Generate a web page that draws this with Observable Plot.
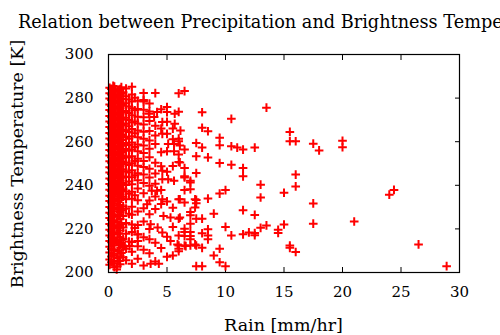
<!DOCTYPE html>
<html>
<head>
<meta charset="utf-8">
<script src="https://cdn.jsdelivr.net/npm/d3@7"></script>
<script src="https://cdn.jsdelivr.net/npm/@observablehq/plot@0.6"></script>
<style>
  html, body { margin: 0; padding: 0; background: white; overflow: hidden; }
  svg { display: block; }
</style>
</head>
<body>
<div id="chart"></div>
<script>
const titleText = "Relation between Precipitation and Brightness Temperature";
const xLabel = "Rain [mm/hr]";
const yLabel = "Brightness Temperature [K]";
const xTicks = [0, 5, 10, 15, 20, 25, 30];
const yTicks = [200, 220, 240, 260, 280, 300];

// Dense low-rain columns
const denseRain = [0.1, 0.25, 0.4, 0.5, 0.6, 0.75, 0.9, 1.0, 1.1, 1.25, 1.5, 1.75, 2.0, 2.25, 2.5, 3.0, 3.5, 4.0, 4.5];
const denseTemps = [
  [203.5, 206, 209.2, 211.8, 214.5, 217, 219.6, 222.3, 225, 227.4, 230.1, 232.8, 235.2, 238, 240.6, 243.1, 245.9, 248.3, 251, 253.7, 256.2, 258.8, 261.5, 264, 266.7, 269.3, 271.8, 274.5, 277.1, 279.8, 282.2, 284.7],
  [204.7, 207.3, 210.8, 213.9, 216.2, 218.9, 221.6, 224.1, 226.8, 229.5, 232.1, 234.6, 237.4, 239.9, 242.5, 245.2, 247.8, 250.4, 252.9, 255.6, 258.1, 260.9, 263.4, 266.1, 268.6, 271.2, 273.9, 276.4, 279.1, 281.6, 284.2],
  [204.1, 208.6, 212.5, 215.1, 217.6, 220.2, 222.9, 225.6, 228.1, 230.8, 233.4, 236, 238.6, 241.2, 243.8, 246.5, 249.1, 251.6, 254.3, 256.9, 259.5, 262.1, 264.7, 267.4, 269.9, 272.5, 275.2, 277.7, 280.3, 282.9, 285.6],
  [202.4, 205.1, 207.9, 210.3, 213.2, 215.8, 218.4, 221.1, 223.6, 226.2, 228.9, 231.5, 234.1, 236.7, 239.3, 241.8, 244.6, 247.2, 249.7, 252.4, 255, 257.5, 260.2, 262.8, 265.4, 268, 270.6, 273.2, 275.8, 278.5, 281, 283.6, 285.3],
  [236.9, 240.5, 243.7, 246.3, 249.1, 251.4, 254.2, 256.8, 259.7, 262.3, 264.9, 267.6, 270.3, 272.8, 275.5, 278.2, 280.6, 283.4],
  [202.9, 206.6, 209.9, 214.4, 217.7, 220.5, 223, 225.7, 229.2, 232.4, 234.9, 237.8, 240.3, 243.4, 246.1, 248.9, 251.2, 253.9, 256.6, 259.3, 261.8, 264.6, 267.3, 269.9, 272.6, 275.1, 277.9, 280.4, 283],
  [205.3, 210.1, 213.5, 218, 221.7, 226.4, 229.9, 233.1, 236.2, 239.5, 241, 243.9, 246.8, 249.5, 252.1, 254.9, 257.2, 259.9, 262.4, 265.1, 267.8, 270.5, 273.1, 275.7, 278.7, 281.1, 283.8],
  [203.8, 207.4, 212.6, 216.1, 219.3, 224.5, 227.8, 231, 235.7, 238.9, 242.2, 245.1, 248.6, 251.8, 254.4, 257.9, 261, 263.7, 266.9, 269.8, 272.5, 275.4, 278.2, 281.4, 284.1],
  [209, 214.8, 222.1, 228.6, 233.9, 237.4, 240.4, 243.5, 246.3, 249.8, 252.5, 255.3, 258.2, 260.8, 263.1, 265.6, 268.4, 271.1, 273.9, 276.8, 279.5, 282.1, 285],
  [206.9, 211.5, 215.4, 220.6, 225.9, 230.3, 234.8, 238.2, 241.1, 244.2, 247.4, 250.9, 253.6, 256.1, 258.6, 262.3, 264.9, 267.7, 270.3, 273.4, 276.5, 279.7, 282.7],
  [205.6, 210.9, 217.8, 222.7, 229.3, 233.6, 237.2, 240.1, 243.8, 246.5, 250.3, 253.1, 256.7, 259.4, 262.1, 265.3, 268.2, 271, 274.1, 277.6, 280.9, 284.4],
  [214.2, 226.9, 236.1, 241.7, 245.9, 249.3, 252.7, 255.8, 258.5, 261.3, 264.4, 267.1, 270, 273.2, 276.2, 279.4],
  [204, 209.5, 214, 218.6, 222, 226.5, 230.2, 233.8, 237, 240.5, 243.7, 246.9, 250.1, 253.3, 256.4, 259.6, 262.5, 265.8, 268.9, 272.1, 275.3, 278.4, 281.7, 285.2],
  [220.4, 235.4, 244.6, 251.2, 257.6, 263.9, 269.3, 274.4, 280.2],
  [206.3, 212, 217.4, 221.8, 228, 233.1, 238.5, 242.3, 245.5, 249, 252.2, 255.6, 258.7, 262, 265.1, 268.4, 271.5, 275, 278.8],
  [203.2, 210.4, 216.2, 223.4, 229.5, 236.3, 241, 244.9, 248.4, 251.2, 254.8, 258.3, 261.4, 264.6, 267.9, 271.2, 274.6, 279.1, 282.3],
  [208.8, 215.3, 219.9, 226.7, 233, 239.8, 243.6, 247.6, 252.9, 256.8, 260.6, 264.9, 269.5, 273.8, 277.5],
  [205.1, 213.7, 229.1, 234.9, 240.7, 245.4, 250.3, 258.9, 262.9, 267.3],
  [211.2, 231.4, 237.8, 248.7, 255.2, 266, 274.9]
];

// Scattered higher-rain observations
const sparseRain = [6.0, 6.5, 6.0, 8.0, 10.5, 13.5, 8.0, 8.5, 6.0, 6.0, 7.5, 9.5, 9.5, 8.0, 10.5, 11.0, 11.5, 12.5, 6.5, 6.0,
  7.5, 8.5, 6.0, 9.5, 10.5, 6.5, 11.5, 7.5, 6.5, 11.5, 7.0, 7.0, 6.5, 10.0, 9.5, 6.0, 8.5, 7.5, 6.5, 7.5,
  7.0, 9.0, 7.0, 11.5, 12.5, 6.0, 7.5, 8.0, 7.0, 10.0, 6.5, 8.5, 6.5, 7.0, 8.0, 12.0, 12.5, 6.0, 8.5, 10.5,
  11.5, 12.5, 6.5, 7.0, 7.0, 8.5, 6.0, 6.5, 7.0, 7.5, 8.0, 6.0, 9.5, 6.0, 9.0, 9.5, 10.0, 7.5, 8.0, 15.5,
  15.5, 16.0, 17.5, 18.0, 20.0, 20.0, 16.0, 16.0, 13.0, 13.0, 15.0, 17.5, 13.0, 13.5, 15.0, 17.5, 14.5, 14.5, 15.5, 15.5,
  16.0, 21.0, 24.0, 24.4, 26.5, 28.9,
  4.0, 3.0, 5.0, 5.0, 4.15, 5.66, 3.45, 3.9, 4.6, 5.66, 6.15, 4.6, 5.0, 5.1, 5.6, 6.1, 5.0, 5.6, 6.1, 4.6,
  4.6, 5.1, 5.6, 6.5, 7.0, 3.7, 4.15, 4.6, 6.1, 7.4, 7.4, 3.3, 4.7, 5.3, 6.1, 3.6, 4.2, 4.6, 2.5, 2.5,
  5.3, 5.9, 6.6, 7.4, 3.6, 4.3, 0.7, 1.4, 1.8, 5.5, 5.5, 5.5, 5.0, 5.0, 5.0, 5.0, 5.5, 5.5, 5.5, 5.0];
const sparseTemp = [282.2, 283.2, 273.7, 273.5, 270.5, 275.6, 266.4, 264.8, 261.4, 260.2, 259.4, 261.8, 258.4, 257.3, 257.9, 257.3, 256.4, 257.3, 256.4, 254.1,
  253.3, 252.8, 250.7, 250.2, 249.4, 247.9, 247.9, 245.6, 244.2, 244.1, 241.3, 238.2, 237.8, 237.8, 236.2, 233.6, 233.9, 233.3, 232.1, 231.8,
  227.8, 227.0, 226.3, 228.6, 226.4, 224.7, 224.7, 224.7, 222.4, 220.9, 220.1, 219.8, 218.6, 218.6, 218.0, 218.4, 218.1, 217.0, 217.0, 217.0,
  217.5, 217.1, 216.7, 216.7, 215.2, 215.2, 212.4, 212.4, 212.4, 212.4, 211.3, 210.9, 210.9, 209.8, 207.8, 204.7, 202.9, 202.9, 202.9, 264.5,
  260.2, 260.2, 259.1, 256.0, 260.4, 257.5, 244.9, 239.5, 240.3, 234.4, 236.6, 231.7, 220.5, 221.6, 222.0, 222.4, 219.6, 218.1, 212.4, 211.3,
  209.4, 223.4, 235.7, 237.9, 212.9, 202.9,
  282.3, 278.4, 275.9, 273.6, 273.6, 272.8, 272.8, 271.3, 269.0, 268.2, 265.1, 263.6, 263.6, 259.0, 259.0, 258.2, 255.6, 255.6, 250.5, 246.7,
  242.8, 242.8, 242.1, 243.6, 242.1, 237.5, 237.5, 233.6, 233.6, 233.6, 229.8, 231.3, 225.9, 225.2, 225.2, 222.1, 220.6, 218.3, 217.5, 214.4,
  214.4, 212.9, 212.1, 212.9, 204.0, 204.0, 201.4, 212.1, 212.1, 207.8, 220.9, 229.7, 207.2, 216.4, 232.6, 246.2, 248.8, 261.1, 266.0, 269.1];

const points = [];
denseRain.forEach((r, i) => denseTemps[i].forEach(t => points.push({rain: r, temp: t})));
sparseRain.forEach((r, i) => points.push({rain: r, temp: sparseTemp[i]}));

const chart = Plot.plot({
  width: 500,
  height: 335,
  marginTop: 54,
  marginRight: 41,
  marginBottom: 63,
  marginLeft: 108,
  style: {fontFamily: "DejaVu Serif", fontSize: "15px", color: "black", background: "white", overflow: "hidden"},
  x: {domain: [0, 30]},
  y: {domain: [200, 300]},
  marks: [
    Plot.axisX({ticks: xTicks, tickSize: -5, tickPadding: 19, label: null}),
    Plot.axisX({anchor: "top", ticks: xTicks, tickSize: -5, tickFormat: () => "", label: null}),
    Plot.axisY({ticks: yTicks, tickSize: -5, tickPadding: 20, label: null}),
    Plot.axisY({anchor: "right", ticks: yTicks, tickSize: -5, tickFormat: () => "", label: null}),
    Plot.dot(points, {x: "rain", y: "temp", symbol: "plus", r: 2.9, stroke: "red", strokeWidth: 2}),
    Plot.frame({stroke: "black", strokeWidth: 1.2})
  ]
});

const svg = d3.select(chart);
svg.append("text")
  .attr("x", 18).attr("y", 28)
  .attr("text-anchor", "start")
  .attr("font-family", "DejaVu Serif").attr("font-size", 17.7)
  .attr("fill", "black")
  .text(titleText);
svg.append("text")
  .attr("x", 283.5).attr("y", 331)
  .attr("text-anchor", "middle")
  .attr("font-family", "DejaVu Serif").attr("font-size", 17.5)
  .attr("fill", "black")
  .text(xLabel);
svg.append("text")
  .attr("transform", "translate(23,164) rotate(-90)")
  .attr("text-anchor", "middle")
  .attr("font-family", "DejaVu Serif").attr("font-size", 17.5)
  .attr("fill", "black")
  .text(yLabel);

document.getElementById("chart").appendChild(chart);
</script>
</body>
</html>
